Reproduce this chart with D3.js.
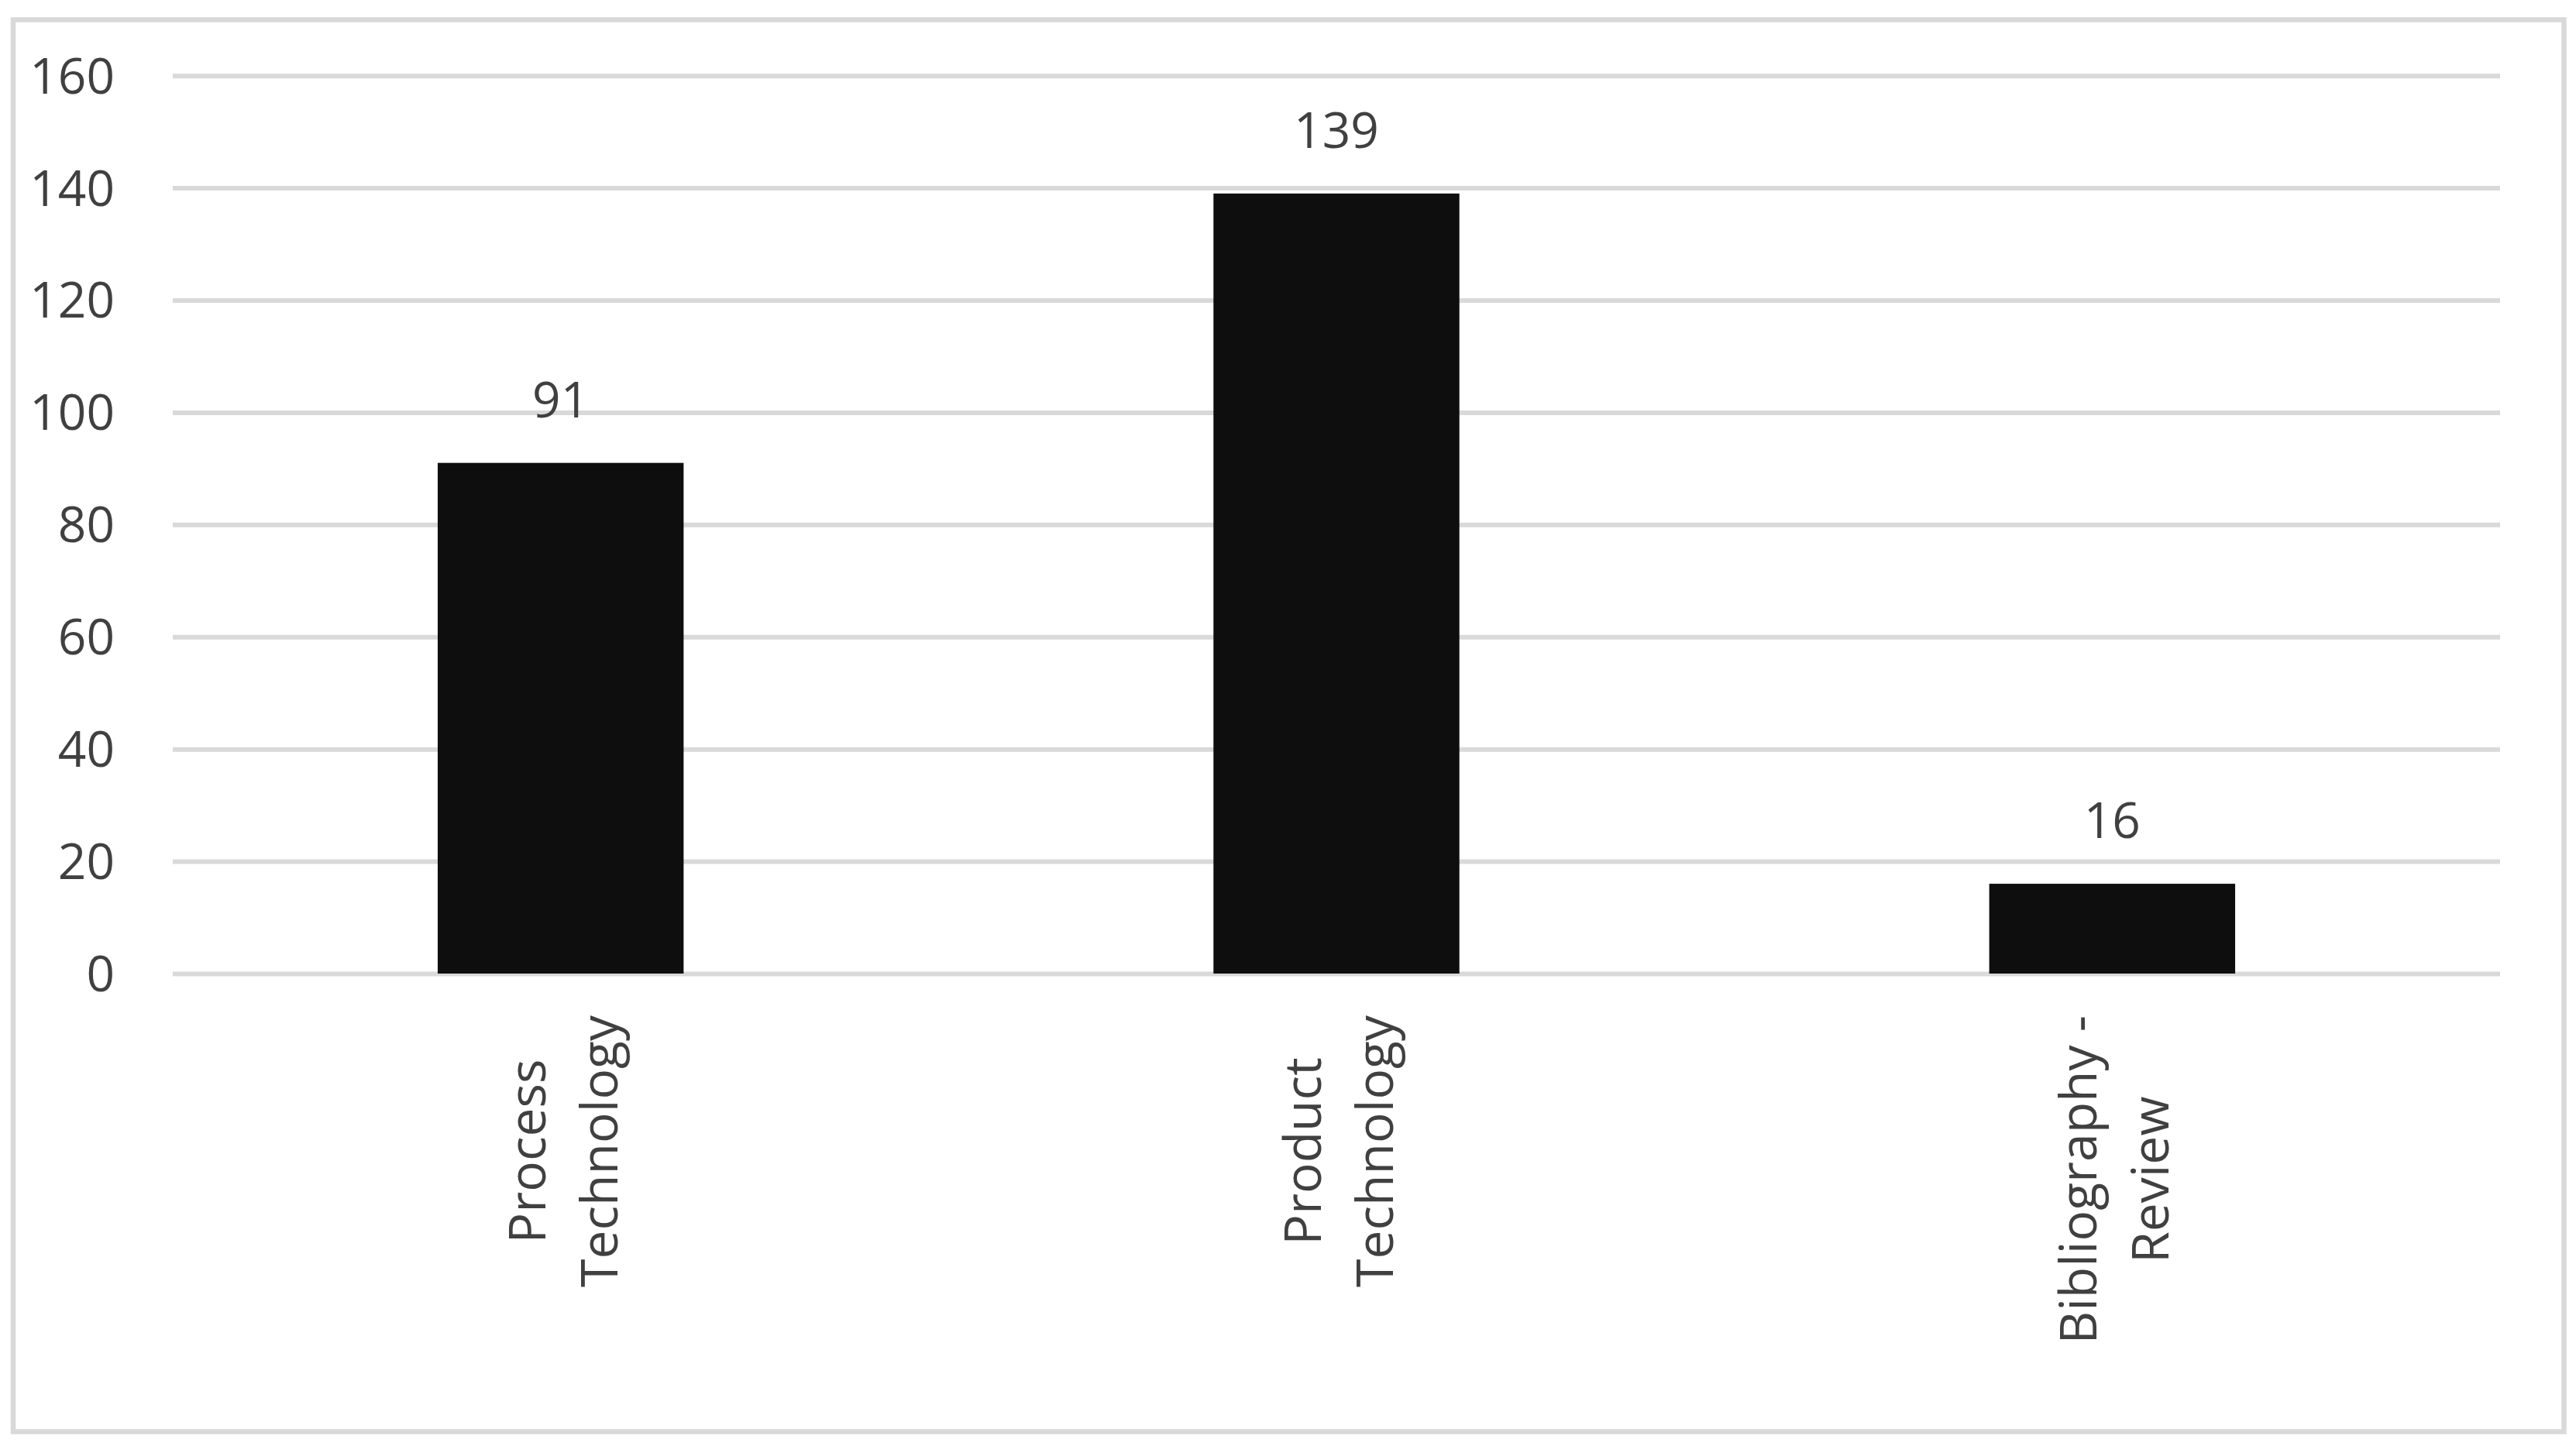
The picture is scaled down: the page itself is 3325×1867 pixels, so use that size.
<!DOCTYPE html>
<html>
<head>
<meta charset="utf-8">
<script src="https://cdn.jsdelivr.net/npm/d3@7"></script>
<style>
  body { margin: 0; background: #fff; }
  text { font-family: "Open Sans", sans-serif; fill: #404040; }
</style>
</head>
<body>
<div id="chart"></div>
<script>
// data
var categories = [["Process", "Technology"], ["Product", "Technology"], ["Bibliography -", "Review"]];
var values = [91, 139, 16];
var yTicks = [0, 20, 40, 60, 80, 100, 120, 140, 160];

var W = 3325, H = 1867;
var plot = {left: 223, right: 3227, top: 97.7, bottom: 1257};

var svg = d3.select("#chart").append("svg")
    .attr("width", W)
    .attr("height", H);

// outer frame
svg.append("rect")
    .attr("x", 17).attr("y", 25.5)
    .attr("width", 3292.5).attr("height", 1823)
    .attr("fill", "#fff")
    .attr("stroke", "#d9d9d9")
    .attr("stroke-width", 6.5);

var y = d3.scaleLinear().domain([0, 160]).range([plot.bottom, plot.top]);
var x = d3.scaleBand()
    .domain(d3.range(values.length))
    .range([plot.left, plot.right])
    .paddingInner(0.683)
    .paddingOuter(0.683 / 2);

// y axis + gridlines
var yAxis = svg.append("g")
    .attr("transform", "translate(" + plot.left + ",0)")
    .call(d3.axisLeft(y).tickValues(yTicks).tickSize(-(plot.right - plot.left)).tickPadding(75));
yAxis.select(".domain").remove();
yAxis.selectAll("line").attr("stroke", "#d9d9d9").attr("stroke-width", 6);
yAxis.selectAll("text")
    .attr("font-size", 64)
    .attr("font-family", "Open Sans")
    .attr("fill", "#404040")
    .attr("dy", "0.35em");

// bars
svg.selectAll(".bar")
    .data(values)
    .enter().append("rect")
    .attr("class", "bar")
    .attr("x", function(d, i) { return x(i); })
    .attr("y", function(d) { return y(d); })
    .attr("width", x.bandwidth())
    .attr("height", function(d) { return y(0) - y(d); })
    .attr("fill", "#0e0e0e");

// value labels
svg.selectAll(".val")
    .data(values)
    .enter().append("text")
    .attr("class", "val")
    .attr("x", function(d, i) { return x(i) + x.bandwidth() / 2; })
    .attr("y", function(d) { return y(d) - 59; })
    .attr("text-anchor", "middle")
    .attr("font-size", 64)
    .text(function(d) { return d; });

// category labels, rotated
var labelTop = 1311;
categories.forEach(function(lines, i) {
  var cx = x(i) + x.bandwidth() / 2;
  var g = svg.append("g");
  var texts = lines.map(function(s, j) {
    return g.append("text")
      .attr("x", 0)
      .attr("y", j === 0 ? -20 : 73)
      .attr("text-anchor", "middle")
      .attr("font-size", 66)
      .text(s);
  });
  var L = d3.max(texts, function(t) { return t.node().getComputedTextLength(); });
  g.attr("transform", "translate(" + cx + "," + (labelTop + L / 2) + ") rotate(-90)");
});
</script>
</body>
</html>
